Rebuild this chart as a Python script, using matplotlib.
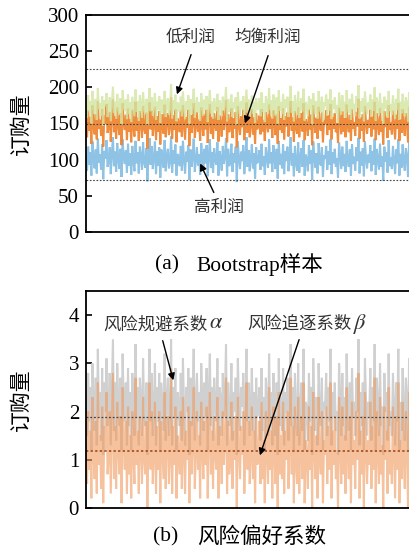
import matplotlib
matplotlib.use("Agg")
import matplotlib.pyplot as plt
import numpy as np

plt.rcParams["font.family"] = ["Liberation Serif", "Noto Sans CJK SC"]
plt.rcParams["mathtext.fontset"] = "stix"

# ---- (a) Bootstrap samples: order quantity per sample ----
low_profit = [176, 158, 189, 167, 181, 150, 195, 172, 163, 184, 155, 199, 170, 178, 161, 188, 147, 182, 174, 192,
              159, 169, 186, 153, 177, 201, 165, 180, 157, 191, 171, 162, 185, 149, 196, 175, 168, 183, 156, 190,
              164, 179, 152, 187, 173, 160, 197, 166, 181, 154, 189, 176, 158, 193, 170, 163, 184, 148, 178, 199,
              167, 186, 161, 174, 192, 155, 180, 169, 188, 151, 183, 172, 164, 195, 159, 177, 185, 162, 171, 204,
              157, 182, 168, 190, 153, 179, 175, 166, 187, 160, 194, 173, 156, 181, 170, 189, 150, 184, 163, 176,
              198, 158, 171, 186, 165, 179, 154, 192, 174, 161, 183, 169, 188, 152, 177, 196, 164, 180, 157, 185,
              172, 167, 191, 155, 182, 176, 160, 187, 168, 178, 200, 153, 184, 166, 173, 190, 159, 179, 170, 186,
              148, 193, 175, 162, 181, 171, 188, 156, 177, 197, 165, 183, 158, 174, 189, 163, 180, 151, 185, 169,
              171, 185, 160, 193, 166, 178, 152, 188, 175, 163, 199, 169, 182, 157, 190, 174, 161, 186, 150, 196,
              168, 179, 164, 191, 155, 183, 172, 187, 159, 176, 202, 165, 181, 153, 189, 170, 162, 194, 158, 177,
              185, 167, 198, 154, 180, 173, 160, 188, 169, 184, 149, 192, 176, 163, 181, 157, 195, 171, 166, 187,
              152, 179, 174, 190, 161, 183, 168, 197, 156, 182, 170, 186, 164, 175, 151, 193, 178, 162, 189, 167,
              180, 158, 196, 173, 165, 184, 155, 191, 169, 177, 160, 188, 172, 203, 157, 181, 166, 185, 153, 194,
              175, 163, 179, 170, 190, 159, 183, 168, 200, 154, 186, 174, 161, 192, 165, 178, 150, 187, 171, 182,
              158, 195, 167, 176, 162, 189, 173, 156, 184, 169, 198, 155, 180, 164, 191, 172, 160, 186, 177, 152,
              193, 166, 181, 170, 188, 157, 183, 175, 162, 196, 168, 179, 154, 190, 171, 185, 161, 194, 165, 178]
balanced_profit = [152, 131, 168, 140, 159, 122, 175, 146, 135, 163, 128, 181, 143, 155, 133, 170, 118, 161, 149, 177,
                   137, 144, 166, 125, 157, 183, 138, 160, 129, 172, 147, 134, 164, 120, 178, 150, 141, 162, 127, 171,
                   139, 156, 124, 169, 145, 132, 180, 140, 158, 126, 167, 151, 130, 174, 143, 136, 165, 115, 154, 179,
                   142, 168, 133, 148, 173, 127, 160, 139, 167, 121, 163, 146, 136, 176, 131, 153, 164, 134, 145, 186,
                   129, 161, 141, 170, 124, 157, 149, 138, 168, 132, 175, 147, 128, 159, 144, 169, 119, 162, 137, 150,
                   178, 130, 146, 166, 139, 155, 126, 172, 148, 133, 163, 142, 169, 123, 153, 177, 136, 158, 129, 164,
                   147, 140, 173, 125, 161, 150, 132, 168, 141, 154, 182, 124, 163, 138, 146, 171, 130, 157, 143, 166,
                   117, 174, 149, 134, 160, 145, 169, 127, 151, 179, 137, 162, 131, 148, 170, 135, 158, 122, 164, 142,
                   147, 161, 135, 170, 139, 155, 126, 166, 150, 138, 176, 143, 159, 130, 168, 149, 134, 163, 122, 174,
                   141, 157, 137, 171, 128, 160, 146, 165, 132, 153, 181, 140, 158, 125, 167, 144, 136, 172, 131, 152,
                   164, 139, 178, 127, 156, 148, 133, 169, 142, 162, 120, 175, 151, 137, 158, 129, 173, 145, 140, 165,
                   124, 154, 149, 168, 134, 161, 141, 177, 128, 159, 143, 164, 138, 150, 123, 172, 153, 135, 167, 139,
                   157, 131, 176, 147, 138, 162, 126, 170, 143, 152, 133, 166, 146, 184, 129, 158, 140, 163, 125, 174,
                   150, 136, 155, 144, 169, 132, 160, 142, 180, 127, 164, 148, 134, 171, 139, 153, 121, 167, 145, 159,
                   130, 175, 141, 151, 135, 168, 147, 128, 162, 143, 178, 126, 156, 137, 170, 146, 133, 164, 152, 124,
                   173, 139, 158, 144, 166, 129, 160, 149, 136, 176, 142, 155, 127, 169, 145, 163, 134, 173, 138, 154]
high_profit = [104, 85, 118, 93, 110, 78, 125, 99, 88, 114, 81, 129, 96, 107, 86, 121, 73, 112, 101, 127,
               90, 97, 117, 80, 108, 131, 91, 111, 83, 123, 100, 87, 115, 76, 128, 103, 94, 113, 82, 122,
               92, 109, 79, 119, 98, 84, 126, 95, 110, 81, 118, 104, 86, 124, 96, 89, 116, 70, 106, 130,
               93, 119, 87, 101, 125, 80, 112, 92, 117, 75, 114, 99, 89, 127, 84, 105, 115, 88, 97, 132,
               82, 113, 94, 121, 78, 108, 102, 91, 119, 85, 126, 100, 81, 111, 97, 120, 72, 114, 90, 103,
               129, 83, 99, 117, 92, 107, 79, 123, 101, 86, 115, 95, 120, 77, 105, 128, 89, 110, 82, 116,
               100, 93, 124, 78, 112, 103, 85, 119, 94, 106, 130, 77, 115, 91, 98, 122, 83, 109, 96, 118,
               69, 125, 102, 87, 111, 98, 120, 80, 104, 131, 90, 113, 84, 101, 121, 88, 109, 74, 117, 95,
               99, 113, 86, 122, 91, 105, 79, 117, 102, 89, 128, 95, 110, 83, 120, 101, 87, 115, 74, 126,
               93, 108, 88, 121, 80, 112, 98, 118, 84, 103, 131, 92, 109, 77, 119, 96, 85, 124, 82, 104,
               116, 90, 127, 78, 107, 100, 84, 120, 94, 113, 72, 125, 103, 89, 109, 81, 123, 97, 92, 117,
               76, 106, 101, 119, 86, 112, 93, 128, 80, 110, 95, 115, 90, 102, 75, 124, 105, 87, 118, 91,
               108, 83, 126, 99, 90, 114, 78, 121, 94, 104, 85, 117, 98, 130, 81, 111, 92, 116, 77, 125,
               102, 88, 107, 96, 120, 84, 112, 93, 129, 79, 115, 100, 86, 122, 90, 105, 71, 118, 97, 110,
               82, 127, 91, 103, 87, 119, 99, 80, 114, 95, 128, 78, 108, 89, 121, 98, 85, 116, 104, 76,
               124, 91, 109, 96, 117, 82, 112, 101, 88, 126, 93, 106, 79, 120, 97, 113, 86, 125, 90, 104]
ref_a = [225, 149, 72]

# ---- (b) risk preference coefficients ----
alpha_vals = [2.3, 1.5, 2.8, 1.8, 2.5, 1.2, 3.0, 2.1, 1.6, 2.7, 1.3, 3.3, 1.9, 2.4, 1.4, 2.9, 1.1, 2.6, 2.0, 3.1,
              1.7, 2.0, 2.8, 1.3, 2.4, 3.5, 1.6, 2.6, 1.4, 3.0, 2.1, 1.7, 2.7, 1.2, 3.2, 2.2, 1.8, 2.6, 1.3, 2.9,
              1.7, 2.4, 1.2, 2.8, 2.1, 1.5, 3.4, 1.9, 2.5, 1.3, 2.7, 2.3, 1.5, 3.1, 2.0, 1.7, 2.6, 1.1, 2.3, 3.3,
              1.8, 2.8, 1.5, 2.1, 3.0, 1.3, 2.5, 1.8, 2.8, 1.2, 2.6, 2.1, 1.6, 3.2, 1.4, 2.3, 2.7, 1.5, 2.0, 3.5,
              1.3, 2.5, 1.9, 2.9, 1.2, 2.4, 2.2, 1.7, 2.8, 1.4, 3.1, 2.1, 1.3, 2.5, 2.0, 2.9, 1.1, 2.7, 1.7, 2.3,
              3.3, 1.4, 2.1, 2.8, 1.8, 2.4, 1.3, 3.0, 2.2, 1.6, 2.6, 1.9, 2.9, 1.2, 2.3, 3.2, 1.7, 2.5, 1.4, 2.7,
              2.1, 1.8, 3.1, 1.3, 2.5, 2.3, 1.5, 2.8, 1.9, 2.3, 3.4, 1.3, 2.6, 1.7, 2.0, 3.0, 1.4, 2.4, 2.0, 2.7,
              1.1, 3.1, 2.2, 1.6, 2.5, 2.1, 2.8, 1.3, 2.2, 3.3, 1.8, 2.6, 1.5, 2.1, 2.9, 1.6, 2.4, 1.2, 2.7, 1.9,
              2.0, 2.5, 1.4, 2.9, 1.6, 2.3, 1.2, 2.7, 2.2, 1.5, 3.2, 1.8, 2.4, 1.3, 2.8, 2.1, 1.5, 2.6, 1.1, 3.1,
              1.7, 2.3, 1.6, 2.9, 1.3, 2.4, 2.0, 2.7, 1.4, 2.2, 3.4, 1.7, 2.5, 1.2, 2.8, 1.9, 1.5, 3.0, 1.3, 2.1,
              2.6, 1.6, 3.3, 1.2, 2.2, 2.1, 1.4, 2.8, 1.8, 2.5, 1.1, 3.1, 2.2, 1.6, 2.3, 1.3, 3.0, 2.0, 1.7, 2.7,
              1.2, 2.2, 2.1, 2.8, 1.5, 2.5, 1.8, 3.3, 1.3, 2.4, 1.9, 2.6, 1.6, 2.0, 1.1, 3.0, 2.3, 1.5, 2.8, 1.7,
              2.3, 1.4, 3.2, 2.1, 1.6, 2.6, 1.2, 2.9, 1.9, 2.2, 1.5, 2.7, 2.0, 3.5, 1.3, 2.4, 1.7, 2.6, 1.2, 3.1,
              2.2, 1.5, 2.2, 1.9, 2.9, 1.4, 2.5, 1.8, 3.4, 1.2, 2.7, 2.2, 1.5, 3.0, 1.7, 2.1, 1.1, 2.8, 2.0, 2.4,
              1.4, 3.2, 1.7, 2.0, 1.5, 2.8, 2.1, 1.3, 2.6, 1.8, 3.3, 1.2, 2.2, 1.6, 2.9, 2.1, 1.4, 2.7, 2.3, 1.2,
              3.1, 1.7, 2.4, 1.9, 2.8, 1.4, 2.5, 2.2, 1.5, 3.2, 1.8, 2.3, 1.3, 2.9, 2.0, 2.6, 1.4, 3.0, 1.7, 2.1]
beta_vals = [1.3, 0.5, 2.0, 0.8, 1.6, 0.2, 2.3, 1.1, 0.6, 1.8, 0.3, 2.6, 0.9, 1.5, 0.4, 2.1, 0.1, 1.7, 1.2, 2.4,
             0.7, 1.0, 2.0, 0.3, 1.5, 2.8, 0.6, 1.7, 0.4, 2.2, 1.2, 0.7, 1.9, 0.1, 2.5, 1.3, 0.8, 1.8, 0.3, 2.1,
             0.7, 1.5, 0.2, 2.0, 1.1, 0.5, 2.7, 0.9, 1.6, 0.3, 1.9, 1.3, 0.5, 2.3, 1.0, 0.7, 1.8, 0.0, 1.4, 2.6,
             0.8, 2.0, 0.5, 1.1, 2.2, 0.3, 1.7, 0.8, 2.0, 0.1, 1.8, 1.2, 0.6, 2.4, 0.4, 1.4, 1.9, 0.5, 1.0, 2.9,
             0.3, 1.7, 0.9, 2.1, 0.2, 1.5, 1.2, 0.7, 2.0, 0.4, 2.3, 1.1, 0.3, 1.6, 1.0, 2.1, 0.1, 1.8, 0.7, 1.3,
             2.5, 0.4, 1.1, 2.0, 0.8, 1.5, 0.2, 2.2, 1.2, 0.6, 1.8, 0.9, 2.1, 0.2, 1.4, 2.4, 0.7, 1.6, 0.4, 1.9,
             1.1, 0.8, 2.3, 0.2, 1.7, 1.3, 0.5, 2.0, 0.9, 1.4, 2.7, 0.3, 1.8, 0.7, 1.0, 2.2, 0.4, 1.6, 1.0, 1.9,
             0.0, 2.3, 1.2, 0.6, 1.7, 1.1, 2.0, 0.3, 1.3, 2.6, 0.8, 1.8, 0.5, 1.1, 2.1, 0.6, 1.6, 0.1, 1.9, 0.9,
             1.0, 1.8, 0.5, 2.2, 0.6, 1.4, 0.1, 2.0, 1.2, 0.5, 2.5, 0.8, 1.6, 0.2, 2.1, 1.1, 0.5, 1.9, 0.0, 2.4,
             0.7, 1.5, 0.6, 2.2, 0.3, 1.6, 1.0, 2.0, 0.4, 1.2, 2.7, 0.7, 1.7, 0.1, 2.1, 0.9, 0.5, 2.3, 0.3, 1.3,
             1.9, 0.6, 2.6, 0.1, 1.4, 1.1, 0.4, 2.1, 0.8, 1.7, 0.0, 2.4, 1.2, 0.6, 1.5, 0.2, 2.3, 1.0, 0.7, 2.0,
             0.1, 1.4, 1.1, 2.1, 0.5, 1.7, 0.8, 2.6, 0.2, 1.6, 0.9, 1.9, 0.6, 1.2, 0.0, 2.3, 1.3, 0.5, 2.1, 0.7,
             1.5, 0.3, 2.5, 1.1, 0.6, 1.9, 0.1, 2.2, 0.9, 1.4, 0.4, 2.0, 1.0, 2.8, 0.2, 1.6, 0.7, 1.9, 0.0, 2.4,
             1.2, 0.5, 1.4, 0.9, 2.2, 0.4, 1.7, 0.8, 2.7, 0.1, 2.0, 1.2, 0.5, 2.3, 0.7, 1.3, 0.0, 2.1, 1.0, 1.6,
             0.3, 2.5, 0.7, 1.2, 0.5, 2.1, 1.1, 0.2, 1.9, 0.8, 2.6, 0.1, 1.4, 0.6, 2.2, 1.1, 0.4, 2.0, 1.3, 0.0,
             2.4, 0.7, 1.6, 0.9, 2.1, 0.3, 1.7, 1.2, 0.5, 2.5, 0.8, 1.5, 0.2, 2.2, 1.0, 1.9, 0.4, 2.3, 0.7, 1.3]
ref_alpha, ref_beta = 1.88, 1.18

W, H = 409, 551
fig = plt.figure(figsize=(W / 100, H / 100), dpi=100)


def fpx(x, y):
    # image pixel (top-left origin) -> figure fraction
    return x / W, 1 - y / H


def style_axes(ax):
    for s in ("left", "top", "bottom"):
        ax.spines[s].set_linewidth(1.3)
    ax.spines["right"].set_visible(False)
    ax.tick_params(axis="y", direction="in", length=4, width=1.2, labelsize=15, pad=5)
    ax.tick_params(axis="x", bottom=False, labelbottom=False)
    ax.set_ylabel("订购量", fontsize=15)
    ax.yaxis.set_label_coords(-0.157, 0.5)


def arrow_px(tail, head):
    fig.add_artist(matplotlib.patches.FancyArrowPatch(
        fpx(*tail), fpx(*head), transform=fig.transFigure,
        arrowstyle="-|>", color="black", lw=1.0, mutation_scale=10))


def label_px(x, y, cjk, sym=None):
    # x is the text centre for plain labels, the CJK/greek junction otherwise
    if sym is None:
        fig.text(*fpx(x, y), cjk, fontsize=12, ha="center", va="center", color="#333333")
        return
    fig.text(*fpx(x, y), cjk, fontsize=12.5, ha="right", va="center", color="#333333")
    fig.text(*fpx(x + 1, y - 1), sym, fontsize=16, ha="left", va="center", color="#333333")


def draw_series(ax, series, colors, alphas, lw=1.5):
    n = min(len(s) for s in series)
    x = np.arange(n)
    for s, c, a in zip(series, colors, alphas):
        ax.plot(x, s[:n], color=c, lw=lw, alpha=a, solid_joinstyle="miter")
    ax.set_xlim(0, n - 1)


# ---------------- panel (a) ----------------
ax1 = fig.add_axes([86 / W, 1 - 232 / H, 0.84, 217 / H])
draw_series(ax1, [high_profit, balanced_profit, low_profit],
            ["#8ec3e6", "#f08632", "#d2e4a0"], [1.0, 0.95, 0.8])
for v in ref_a:
    ax1.axhline(v, color="#444444", lw=0.8, ls=(0, (1.5, 1.5)))
ax1.set_ylim(0, 300)
ax1.set_yticks([0, 50, 100, 150, 200, 250, 300])
style_axes(ax1)

label_px(191, 38, "低利润")
arrow_px((192, 52), (176, 97))
label_px(268, 38, "均衡利润")
arrow_px((269, 53), (244, 126))
label_px(219, 208, "高利润")
arrow_px((215, 195), (199, 161))

fig.text(*fpx(167, 265), "(a)", fontsize=15.5, ha="center", va="center")
fig.text(*fpx(196, 265), "Bootstrap样本", fontsize=15.5, ha="left", va="center")

# ---------------- panel (b) ----------------
ax2 = fig.add_axes([86 / W, 1 - 508 / H, 0.84, 217 / H])
draw_series(ax2, [alpha_vals, beta_vals], ["#d0d0d0", "#f09a5c"], [1.0, 0.6])
ax2.axhline(ref_alpha, color="#444444", lw=0.9, ls=(0, (1.5, 1.5)))
ax2.axhline(ref_beta, color="#9a3f10", lw=1.1, ls=(0, (1.5, 1.5)))
ax2.set_ylim(0, 4.5)
ax2.set_yticks([0, 1, 2, 3, 4])
style_axes(ax2)

label_px(208, 325, "风险规避系数", r"$\alpha$")
arrow_px((162, 338), (174, 383))
label_px(352, 325, "风险追逐系数", r"$\beta$")
arrow_px((300, 337), (259, 458))

fig.text(*fpx(166, 537), "(b)", fontsize=15.5, ha="center", va="center")
fig.text(*fpx(197, 537), "风险偏好系数", fontsize=15.5, ha="left", va="center")

fig.savefig("out.png", dpi=100)
